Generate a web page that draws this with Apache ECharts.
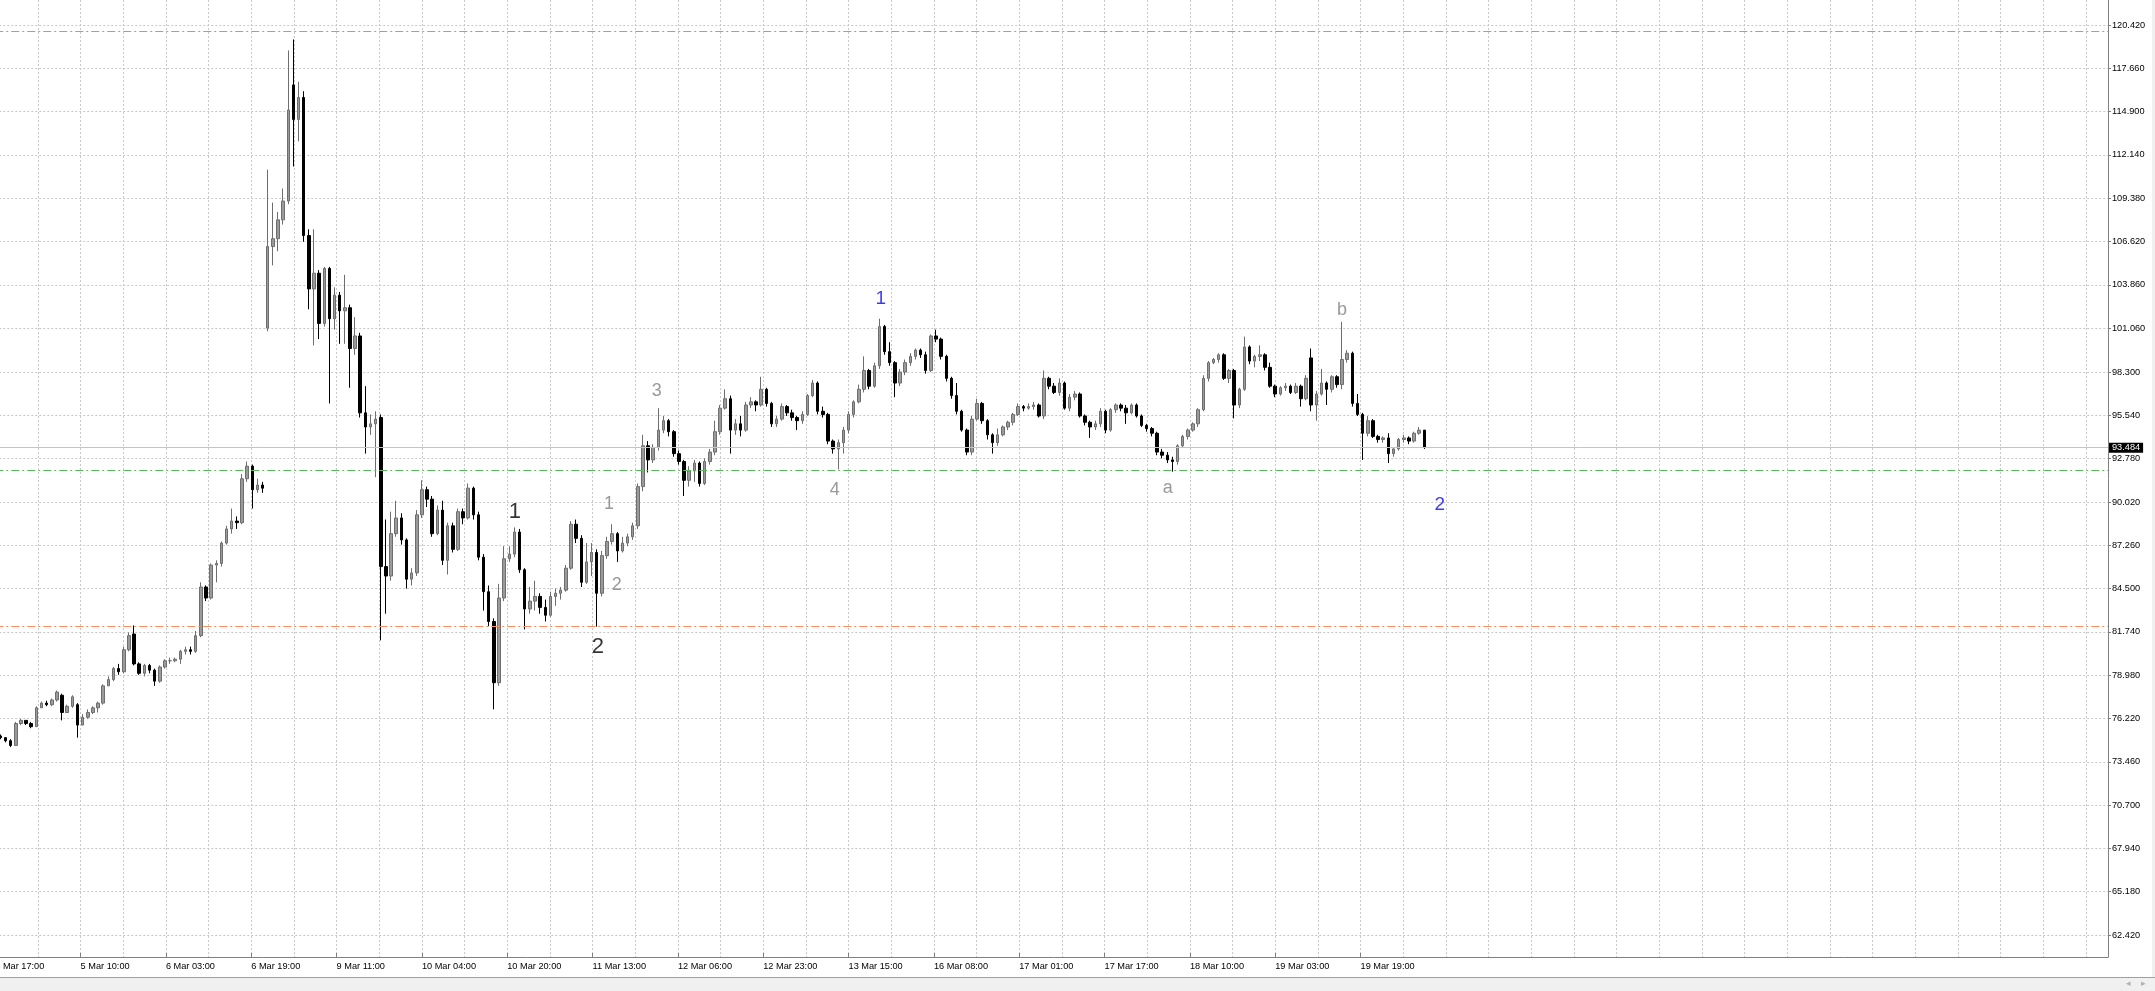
<!DOCTYPE html>
<html>
<head>
<meta charset="utf-8">
<script src="https://cdn.jsdelivr.net/npm/echarts@6/dist/echarts.min.js"></script>
<style>
html,body{margin:0;padding:0;background:#ffffff;overflow:hidden;}
#chart{width:2155px;height:991px;}
</style>
</head>
<body>
<div id="chart"></div>
<script>
// ---- time-axis tick labels (every 16.6 hourly bars) ----
const timeLabels = ['4 Mar 17:00','5 Mar 10:00','6 Mar 03:00','6 Mar 19:00','9 Mar 11:00','10 Mar 04:00',
  '10 Mar 20:00','11 Mar 13:00','12 Mar 06:00','12 Mar 23:00','13 Mar 15:00','16 Mar 08:00',
  '17 Mar 01:00','17 Mar 17:00','18 Mar 10:00','19 Mar 03:00','19 Mar 19:00'];
// ---- price-axis tick labels ----
const priceTicks = [62.42,65.18,67.94,70.70,73.46,76.22,78.98,81.74,84.50,87.26,90.02,92.78,
  95.54,98.30,101.06,103.86,106.62,109.38,112.14,114.90,117.66,120.42];

// ---- hourly OHLC, bars 1..278 (bar 0 = 4 Mar 17:00 is off-screen) ----
const opens = [
75.1,75.0,74.8,74.5,75.9,76.1,75.9,75.7,76.9,77.2,
77.1,77.4,77.7,76.6,77.0,77.1,75.8,76.3,76.6,76.9,
77.2,78.3,78.7,79.4,79.2,80.6,81.6,79.7,79.1,79.6,
79.3,78.6,79.5,79.9,79.9,80.0,80.5,80.6,80.5,81.5,
84.6,83.9,86.0,86.1,87.4,88.3,88.8,88.7,91.5,92.3,
90.8,91.1,101.1,106.3,106.8,108.0,109.2,116.6,114.4,115.8,
107.0,103.6,104.6,101.4,104.9,101.7,103.2,102.2,102.4,99.8,
100.6,95.7,94.8,95.0,95.4,85.9,85.3,88.0,89.0,87.6,
85.1,85.5,89.2,90.8,90.2,88.0,89.5,86.3,88.5,87.0,
89.4,89.0,90.9,89.2,86.5,84.3,82.4,78.5,83.9,86.4,
86.7,88.1,85.7,83.2,83.7,84.0,83.3,82.8,84.0,84.2,
84.4,85.8,88.6,87.7,84.9,86.2,86.8,84.2,86.6,87.5,
88.0,86.9,87.4,87.8,88.5,91.0,93.6,92.7,93.5,94.6,
95.2,94.5,93.1,92.6,91.4,92.0,92.5,91.2,92.6,93.2,
94.5,96.0,96.6,94.6,95.0,94.6,96.2,96.4,96.2,97.2,
96.3,95.0,95.3,96.1,95.7,95.4,95.2,95.6,96.8,97.6,
95.8,95.6,93.9,93.4,93.8,94.6,95.6,96.4,97.2,98.4,
97.4,98.7,101.2,99.6,98.9,97.6,98.3,98.9,99.3,99.7,
99.4,98.4,100.6,100.4,99.3,97.9,96.8,95.8,94.6,93.2,
95.3,96.3,95.2,94.3,93.8,94.3,94.8,95.1,95.6,96.1,
96.0,96.1,96.2,95.5,97.9,97.4,97.0,97.6,96.0,96.7,
96.9,95.5,95.1,94.8,95.0,95.8,94.6,95.9,96.2,96.0,
95.7,96.2,95.5,94.9,94.7,94.4,93.2,93.0,92.7,92.6,
93.6,94.2,94.6,95.0,95.9,97.9,98.9,99.1,99.4,97.9,
98.4,96.2,97.2,99.9,99.0,99.3,99.4,98.6,97.4,96.9,
97.3,97.4,97.0,97.4,96.6,99.2,96.2,96.9,97.6,97.2,
98.0,97.5,99.1,99.5,96.3,95.6,94.4,95.2,94.2,94.0,
94.1,93.1,93.4,94.0,94.1,93.9,94.4,94.6];
const highs = [
75.2,75.0,74.9,76.0,76.2,76.1,76.0,77.0,77.3,77.35,
77.5,78.0,77.8,77.1,77.7,77.2,76.5,76.8,77.0,77.3,
78.4,78.9,79.5,79.7,80.8,81.7,82.15,79.8,79.7,79.7,
79.4,79.6,80.0,80.1,80.1,80.6,80.8,80.8,81.8,84.9,
84.7,86.1,86.3,87.5,88.5,89.6,89.1,91.8,92.6,92.4,
91.5,91.3,111.2,109.1,108.5,110.0,118.8,119.5,116.8,116.2,
107.4,107.4,104.8,105.0,105.0,103.7,103.4,104.5,102.6,101.8,
100.8,97.4,95.6,95.8,95.6,88.9,89.4,90.1,89.3,87.7,
85.8,89.5,91.4,91.0,90.4,89.8,90.1,88.7,88.7,89.6,
89.6,91.2,91.0,89.4,86.7,84.7,82.6,84.8,87.2,87.2,
88.4,88.3,85.8,84.6,85.0,84.2,83.8,84.3,84.5,84.6,
86.0,88.8,88.9,87.9,87.4,87.4,87.0,86.9,87.8,88.6,
88.1,87.8,88.0,88.7,91.2,94.3,93.9,93.7,96.0,95.5,
95.3,94.6,93.3,92.7,92.3,92.7,92.6,92.8,93.4,95.2,
96.2,97.2,96.8,95.3,95.5,96.4,96.7,96.5,98.0,97.3,
96.4,95.5,96.3,96.2,95.9,95.5,95.8,96.9,97.8,97.7,
96.1,95.7,94.0,94.0,94.8,95.8,96.5,97.5,99.3,98.5,
98.9,101.7,101.3,100.2,99.0,98.5,99.1,99.5,99.8,99.8,
99.6,100.7,101.0,100.5,99.4,98.0,97.6,95.9,94.7,95.5,
96.6,96.4,95.3,94.4,94.7,94.9,95.2,95.7,96.3,96.2,
96.3,96.4,96.3,98.4,98.0,97.6,97.9,97.7,96.9,97.1,
97.0,95.6,95.2,95.2,96.0,95.9,96.0,96.3,96.3,96.2,
96.3,96.3,95.6,95.0,94.8,94.5,93.4,93.2,92.9,93.7,
94.3,94.7,95.1,96.0,98.1,99.0,99.2,99.5,99.5,98.5,
98.5,97.3,100.56,100.0,99.4,100.0,99.5,98.9,97.5,97.4,
97.6,97.5,97.6,97.5,98.1,99.8,97.1,98.5,97.7,98.1,
98.1,101.5,99.7,99.6,96.9,95.7,95.5,95.3,94.3,94.2,
94.4,93.5,94.1,94.3,94.2,94.5,94.8,94.6];
const lows = [
74.9,74.7,74.4,74.5,75.8,75.8,75.6,75.7,76.9,77.0,
77.0,77.3,76.1,76.6,76.9,75.0,75.8,76.2,76.5,76.6,
77.1,78.3,78.6,79.0,79.1,80.5,79.6,79.0,78.9,79.1,
78.3,78.5,79.4,79.7,79.8,79.7,80.3,80.3,80.4,81.4,
83.7,83.8,84.9,85.9,87.3,88.0,88.3,88.6,91.3,89.6,
90.6,90.6,100.9,105.1,106.0,107.7,109.0,111.4,113.0,106.6,
102.3,100.0,100.4,101.2,96.3,101.0,100.1,100.1,97.3,99.4,
95.4,93.1,94.3,91.6,81.2,82.9,85.0,87.8,87.3,84.5,
84.7,85.3,89.0,89.7,87.8,87.9,86.0,85.4,86.8,86.9,
88.6,88.9,88.9,86.3,83.1,82.1,76.8,78.3,83.7,86.2,
86.5,85.5,81.9,82.9,83.1,82.9,82.4,82.7,83.4,83.8,
84.3,85.7,87.4,84.6,84.8,85.3,82.07,84.0,86.4,87.3,
86.2,86.8,87.2,87.6,88.3,90.7,91.9,92.5,93.3,94.4,
94.2,92.9,92.4,90.4,91.0,91.3,91.0,91.1,92.4,93.0,
94.3,95.9,93.1,94.3,94.2,94.5,96.0,95.8,96.1,96.1,
94.8,94.8,95.2,95.5,95.2,94.6,95.0,95.5,96.7,95.6,
95.4,93.7,93.1,92.1,93.1,94.4,95.4,96.3,97.0,97.2,
97.3,98.5,99.4,98.7,96.7,97.4,98.1,98.7,99.1,99.2,
98.2,98.3,100.2,99.1,97.7,96.6,95.6,94.5,93.0,93.0,
95.2,95.0,94.0,93.1,93.6,94.2,94.6,94.9,95.5,95.8,
95.9,95.9,95.4,95.3,97.2,96.9,96.8,95.9,95.8,96.5,
95.4,94.9,94.1,94.6,94.8,94.4,94.5,95.7,95.8,95.0,
95.6,95.4,94.8,94.5,94.2,93.0,92.8,92.5,91.95,92.4,
93.5,94.0,94.5,94.8,95.8,97.7,98.8,98.9,97.8,97.6,
95.35,96.0,97.1,98.8,98.6,99.0,98.4,97.3,96.7,96.8,
97.1,96.9,96.9,96.1,96.5,95.8,95.2,96.8,96.2,97.0,
97.3,97.2,98.9,96.1,95.5,92.7,94.2,94.1,93.8,93.8,
92.5,92.9,93.3,93.8,93.7,93.8,94.3,93.4];
const closes = [
75.0,74.8,74.5,75.9,76.1,75.9,75.7,76.9,77.2,77.1,
77.4,77.9,76.6,77.0,77.6,75.8,76.3,76.6,76.9,77.2,
78.3,78.7,79.4,79.2,80.6,81.5,79.7,79.1,79.6,79.3,
78.6,79.5,79.9,79.9,80.0,80.5,80.6,80.5,81.5,84.6,
83.9,86.0,86.1,87.4,88.3,88.8,88.7,91.5,92.3,90.8,
91.1,90.9,106.3,106.8,108.0,109.2,115.0,114.4,115.8,107.0,
103.6,104.6,101.4,104.9,101.7,103.2,102.2,102.4,99.8,100.6,
95.7,94.8,95.0,95.3,85.9,85.3,88.0,89.0,87.6,85.1,
85.5,89.2,90.8,90.2,88.0,89.5,86.3,88.5,87.0,89.4,
89.0,90.9,89.2,86.5,84.3,82.4,78.5,83.9,86.4,86.7,
88.1,85.7,83.2,83.7,84.0,83.3,82.8,84.0,84.2,84.4,
85.8,88.6,87.7,84.9,86.2,86.8,84.2,86.6,87.5,88.0,
86.9,87.4,87.8,88.5,91.0,93.6,92.7,93.5,94.6,95.2,
94.5,93.1,92.6,91.4,92.0,92.5,91.2,92.6,93.2,94.5,
96.0,96.6,94.6,95.0,94.6,96.2,96.4,96.2,97.2,96.3,
95.0,95.3,96.1,95.7,95.4,95.2,95.6,96.8,97.6,95.8,
95.6,93.9,93.4,93.8,94.6,95.6,96.4,97.2,98.4,97.4,
98.7,101.2,99.6,98.9,97.6,98.3,98.9,99.3,99.7,99.4,
98.4,100.6,100.4,99.3,97.9,96.8,95.8,94.6,93.2,95.3,
96.3,95.2,94.3,93.8,94.3,94.8,95.1,95.6,96.1,96.0,
96.1,96.2,95.5,97.9,97.4,97.0,97.6,96.0,96.7,96.9,
95.5,95.1,94.8,95.0,95.8,94.6,95.9,96.2,96.0,95.7,
96.2,95.5,94.9,94.7,94.4,93.2,93.0,92.7,92.6,93.6,
94.2,94.6,95.0,95.9,97.9,98.9,99.1,99.4,97.9,98.4,
96.2,97.2,99.9,99.0,99.3,99.4,98.6,97.4,96.9,97.3,
97.4,97.0,97.4,96.6,97.9,96.2,96.9,97.6,97.2,98.0,
97.5,99.1,99.5,96.3,95.6,94.4,95.2,94.2,94.0,94.1,
93.1,93.4,94.0,94.1,93.9,94.4,94.6,93.484];

const lastPrice = 93.484;
const levelLines = [120.04, 82.07];   // horizontal resistance / support (coral)
const greenLine = 92.01;

// ---- wave annotations: text, bar position, price ----
const waveBlueText = ['1','2'];     const waveBlueBar = [172.25, 281.0];  const waveBluePrice = [103.0, 89.87];
const waveBlackText = ['1','2'];    const waveBlackBar = [101.1, 117.25]; const waveBlackPrice = [89.40, 80.80];
const waveGreyText = ['1','2','3','4','a','b'];
const waveGreyBar = [119.4, 120.9, 128.67, 163.3, 228.1, 262.0];
const waveGreyPrice = [89.91, 84.73, 97.11, 90.78, 90.91, 102.26];

// ---------------- build ----------------
const TOTAL = 412;                 // bars incl. empty right-hand shift area
const LABEL_STEP = 16.6;           // bars between time labels
const categories = [];
for (let i = 0; i < TOTAL; i++) categories.push(String(i));
const candles = [['-','-','-','-']];
for (let i = 0; i < opens.length; i++) candles.push([opens[i], closes[i], lows[i], highs[i]]);
const labelPositions = timeLabels.map((_, k) => +(k * LABEL_STEP).toFixed(1));

function pts(texts, bars, prices){ return texts.map((t,i)=>({name:t, value:[bars[i], prices[i]]})); }
const FONT = 'Liberation Sans, Arial, sans-serif';
const gridLine = {show:true, lineStyle:{color:'#c8c8c8', width:1, type:[2,2]}};
function waveSeries(data, color, size){
  return {type:'scatter', xAxisIndex:1, yAxisIndex:0, data:data, symbol:'circle', symbolSize:1,
    itemStyle:{color:'rgba(0,0,0,0)'}, silent:true, z:10,
    label:{show:true, position:'inside', formatter:'{b}', color:color, fontSize:size, fontFamily:FONT}};
}

const chart = echarts.init(document.getElementById('chart'), null, {renderer:'canvas'});
chart.setOption({
  animation:false,
  backgroundColor:'#ffffff',
  grid:{left:-4.74, right:47, top:0, bottom:34, containLabel:false, outerBoundsMode:'none'},
  xAxis:[
    {type:'category', data:categories, boundaryGap:false, show:false},
    {type:'value', min:0, max:TOTAL-1, interval:LABEL_STEP/2, position:'bottom',
      axisLine:{show:true, onZero:false, lineStyle:{color:'#808080', width:1}},
      axisTick:{show:false},
      axisLabel:{show:true, align:'left', margin:5, color:'#000', fontSize:9.2, fontFamily:FONT,
        showMaxLabel:false, hideOverlap:false,
        formatter:function(v){ const k=v/LABEL_STEP, r=Math.round(k); return (Math.abs(k-r)<1e-6 && timeLabels[r]) ? timeLabels[r] : ''; }},
      splitLine:gridLine},
    {type:'value', min:0, max:TOTAL-1, position:'bottom',
      axisLine:{show:false, onZero:false}, axisLabel:{show:false}, splitLine:{show:false},
      axisTick:{show:true, inside:true, length:4, customValues:labelPositions, lineStyle:{color:'#808080', width:1}}}
  ],
  yAxis:[{
    type:'value', position:'right', min:61.018, max:122.013, scale:true,
    axisLine:{show:true, onZero:false, lineStyle:{color:'#808080', width:1}},
    axisTick:{show:true, length:3, customValues:priceTicks, lineStyle:{color:'#808080'}},
    axisLabel:{show:true, customValues:priceTicks, margin:4, color:'#000', fontSize:9.2, fontFamily:FONT,
      formatter:function(v){ return v.toFixed(3); }},
    splitLine:gridLine
  }],
  series:[
    {type:'candlestick', xAxisIndex:0, yAxisIndex:0, data:candles, barWidth:3, clip:true,
      itemStyle:{color:'#9a9a9a', color0:'#000000', borderColor:'#6e6e6e', borderColor0:'#000000', borderWidth:1},
      markLine:{silent:true, symbol:['none','none'], animation:false,
        data:[
          {yAxis:levelLines[0], lineStyle:{color:'#ff7f50', width:1, type:[8,3,2,3]}, label:{show:false}},
          {yAxis:levelLines[1], lineStyle:{color:'#ff8c60', width:1, type:[8,3,2,3]}, label:{show:false}},
          {yAxis:greenLine, lineStyle:{color:'#5cb85c', width:1, type:[8,3,2,3]}, label:{show:false}},
          {yAxis:lastPrice, lineStyle:{color:'#c4c4c4', width:1, type:'solid'},
            label:{show:true, position:'end', distance:1, formatter:lastPrice.toFixed(3), color:'#ffffff',
              backgroundColor:'#000000', padding:[1,3,0,3], fontSize:9.2, fontFamily:FONT}}
        ]}
    },
    waveSeries(pts(waveBlueText, waveBlueBar, waveBluePrice), '#0a0af0', 19),
    waveSeries(pts(waveBlackText, waveBlackBar, waveBlackPrice), '#000000', 22),
    waveSeries(pts(waveGreyText, waveGreyBar, waveGreyPrice), '#808080', 18)
  ],
  graphic:[
    {type:'rect', left:0, top:977, shape:{width:2155, height:14}, style:{fill:'#f0f0f0'}, silent:true, z:100},
    {type:'rect', left:0, top:977, shape:{width:2155, height:1}, style:{fill:'#a0a0a0'}, silent:true, z:101},
    {type:'rect', left:2152, top:0, shape:{width:3, height:977}, style:{fill:'#f0f0f0'}, silent:true, z:100},
    {type:'text', left:2126, top:979, style:{text:'\u25C2', fill:'#b0b0b0', fontSize:9}, silent:true, z:102},
    {type:'text', left:2141, top:979, style:{text:'\u25B8', fill:'#b0b0b0', fontSize:9}, silent:true, z:102}
  ]
});
</script>
</body>
</html>
